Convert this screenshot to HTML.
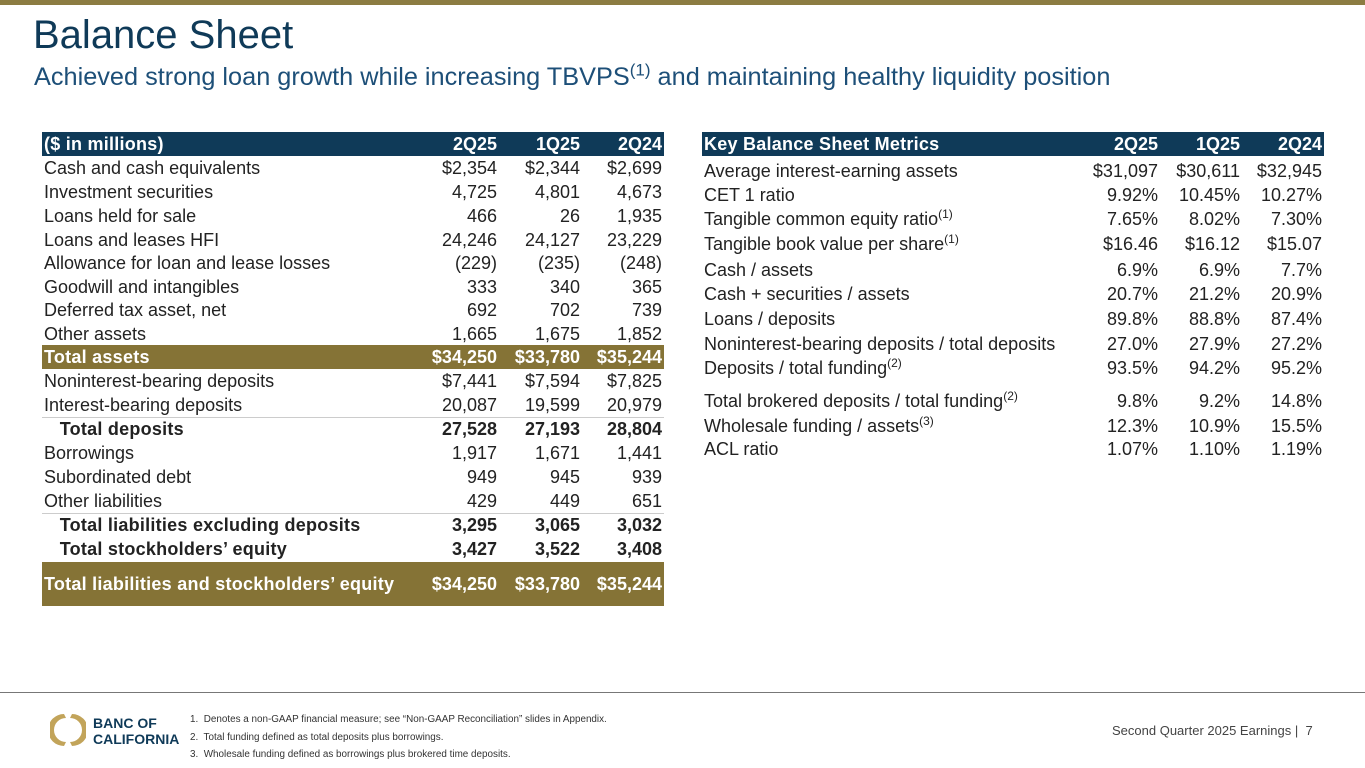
<!DOCTYPE html>
<html><head><meta charset="utf-8"><style>
body{margin:0;width:1365px;height:768px;position:relative;background:#fff;font-family:"Liberation Sans",sans-serif;color:#222;overflow:hidden}
.a{position:absolute;white-space:nowrap}
.r{position:absolute;height:24px;line-height:24px;font-size:18px}
.r span{position:absolute;top:0}
.v{text-align:right}
.hd{background:#0f3a58;color:#fff;font-weight:bold;font-size:18px}
.gd{background:#857336;color:#fff;font-weight:bold;font-size:18px}
sup{font-size:12px;line-height:0}
</style></head><body>
<div class="a" style="left:0;top:0;width:1365px;height:5px;background:#8c7c42"></div>
<div class="a" style="left:33px;top:13px;font-size:40px;color:#0f3a58">Balance Sheet</div>
<div class="a" style="left:34px;top:63px;font-size:25.3px;color:#1d4f78">Achieved strong loan growth while increasing TBVPS<sup style="font-size:17px">(1)</sup> and maintaining healthy liquidity position</div>
<div id="lt"></div>
<div id="rt"></div>
<div class="a" style="left:0;top:692px;width:1365px;height:1px;background:#777"></div>
<svg class="a" style="left:50px;top:712px" width="36" height="36" viewBox="0 0 36 36"><path d="M14 2 A16 16 0 0 0 14 34 L16 30 A12 12 0 0 1 16 6Z" fill="#c2a45a"/><path d="M22 2 A16 16 0 0 1 22 34 L20 30 A12 12 0 0 0 20 6Z" fill="#c2a45a"/></svg>
<div class="a" style="left:93px;top:715px;font-size:14px;font-weight:bold;color:#0f3a58;line-height:16px">BANC OF<br>CALIFORNIA</div>
<div class="a" style="left:190px;top:711px;font-size:9.9px;line-height:17.5px;color:#333">1.&nbsp; Denotes a non-GAAP financial measure; see “Non-GAAP Reconciliation” slides in Appendix.<br>2.&nbsp; Total funding defined as total deposits plus borrowings.<br>3.&nbsp; Wholesale funding defined as borrowings plus brokered time deposits.</div>
<div class="a" style="left:1112px;top:723px;font-size:13px;color:#444">Second Quarter 2025 Earnings |&nbsp; 7</div>
<script>
const leftRows=[
["($ in millions)","2Q25","1Q25","2Q24",132,"hd"],
["Cash and cash equivalents","$2,354","$2,344","$2,699",156],
["Investment securities","4,725","4,801","4,673",180],
["Loans held for sale","466","26","1,935",204],
["Loans and leases HFI","24,246","24,127","23,229",228],
["Allowance for loan and lease losses","(229)","(235)","(248)",251],
["Goodwill and intangibles","333","340","365",275],
["Deferred tax asset, net","692","702","739",298],
["Other assets","1,665","1,675","1,852",322],
["Total assets","$34,250","$33,780","$35,244",345,"gd"],
["Noninterest-bearing deposits","$7,441","$7,594","$7,825",369],
["Interest-bearing deposits","20,087","19,599","20,979",393,"ln"],
["   Total deposits","27,528","27,193","28,804",417,"b"],
["Borrowings","1,917","1,671","1,441",441],
["Subordinated debt","949","945","939",465],
["Other liabilities","429","449","651",489,"ln"],
["   Total liabilities excluding deposits","3,295","3,065","3,032",513,"b"],
["   Total stockholders’ equity","3,427","3,522","3,408",537,"b"],
["Total liabilities and stockholders’ equity","$34,250","$33,780","$35,244",562,"gd44"]];
const rightRows=[
["Key Balance Sheet Metrics","2Q25","1Q25","2Q24",132,"hd"],
["Average interest-earning assets","$31,097","$30,611","$32,945",159],
["CET 1 ratio","9.92%","10.45%","10.27%",183],
["Tangible common equity ratio<sup>(1)</sup>","7.65%","8.02%","7.30%",207],
["Tangible book value per share<sup>(1)</sup>","$16.46","$16.12","$15.07",232],
["Cash / assets","6.9%","6.9%","7.7%",258],
["Cash + securities / assets","20.7%","21.2%","20.9%",282],
["Loans / deposits","89.8%","88.8%","87.4%",307],
["Noninterest-bearing deposits / total deposits","27.0%","27.9%","27.2%",332],
["Deposits / total funding<sup>(2)</sup>","93.5%","94.2%","95.2%",356],
["Total brokered deposits / total funding<sup>(2)</sup>","9.8%","9.2%","14.8%",389],
["Wholesale funding / assets<sup>(3)</sup>","12.3%","10.9%","15.5%",414],
["ACL ratio","1.07%","1.10%","1.19%",437]];
function build(host,rows,x0,w,cols){
 rows.forEach((r,i)=>{
  const d=document.createElement('div');
  
  
  let cls='r',h=24;
  if(r[5]==='hd')cls+=' hd';
  if(r[5]&&r[5].startsWith('gd')){cls+=' gd';if(r[5]==='gd44')h=44;}
  d.className=cls;
  d.style.left=x0+'px';d.style.top=r[4]+'px';d.style.width=w+'px';d.style.height=h+'px';d.style.lineHeight=h+'px';
  if(r[5]==='b'){d.style.fontWeight='bold';}
  if(r[5]==='ln')d.style.borderBottom='1px solid #ccc';
  let lab=r[0].replace(/^   /,'&nbsp;&nbsp;&nbsp;');
  let s='<span style="left:2px;'+(r[5]&&r[5]!=='ln'?'letter-spacing:0.25px':'')+'">'+lab+'</span>';
  for(let k=0;k<3;k++)s+='<span class="v" style="right:'+(x0+w-cols[k])+'px">'+r[k+1]+'</span>';
  d.innerHTML=s;
  host.appendChild(d);
 });
}
build(document.getElementById('lt'),leftRows,42,622,[497,580,662]);
build(document.getElementById('rt'),rightRows,702,622,[1158,1240,1322]);
</script>
</body></html>
